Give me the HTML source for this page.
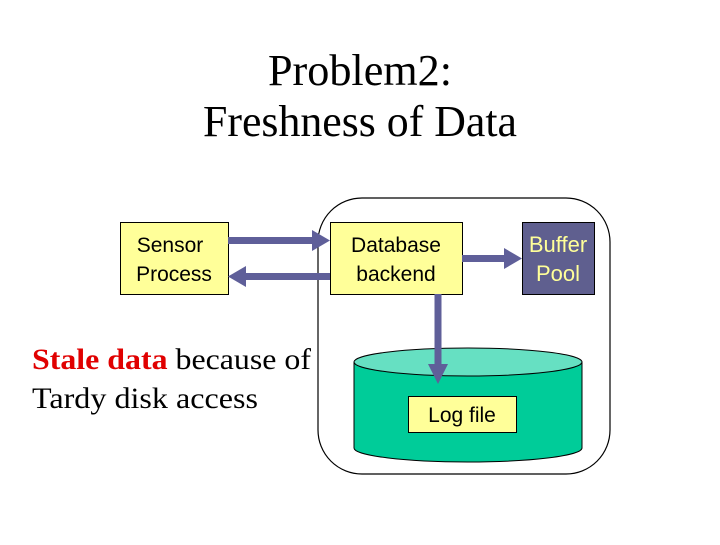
<!DOCTYPE html>
<html><head><style>
html,body{margin:0;padding:0;background:#fff;}
</style></head><body>
<svg width="720" height="540" xmlns="http://www.w3.org/2000/svg">
<rect width="720" height="540" fill="#fff"/>
<g font-family="Liberation Serif, serif" font-size="44" text-anchor="middle" fill="#000">
<text x="360" y="85" textLength="184" lengthAdjust="spacingAndGlyphs">Problem2:</text>
<text x="360" y="136" textLength="314" lengthAdjust="spacingAndGlyphs">Freshness of Data</text>
</g>
<rect x="318" y="198" width="292" height="276" rx="44" fill="none" stroke="#000" stroke-width="1.2"/>
<path d="M354 362 L354 448 A114 14 0 0 0 582 448 L582 362 Z" fill="#00cc99" stroke="#000" stroke-width="1"/>
<ellipse cx="468" cy="362" rx="114" ry="14" fill="#66e0c2" stroke="#000" stroke-width="1"/>
<rect x="120.5" y="222.5" width="108" height="72" fill="#ffff99" stroke="#000"/>
<rect x="330.5" y="222.5" width="132" height="72" fill="#ffff99" stroke="#000"/>
<rect x="522.5" y="222.5" width="72" height="72" fill="#5f5f8f" stroke="#000"/>
<rect x="408.5" y="396.5" width="108" height="36" fill="#ffff99" stroke="#000"/>
<g font-family="Liberation Sans, sans-serif" font-size="21" text-anchor="middle">
<text x="170" y="252">Sensor</text><text x="174" y="281">Process</text>
<text x="396" y="252">Database</text><text x="396" y="281">backend</text>
<text x="558" y="252" fill="#ffff99" font-size="22">Buffer</text><text x="558" y="281" fill="#ffff99" font-size="22">Pool</text>
<text x="462" y="422">Log file</text>
</g>
<g fill="#5f5f99">
<rect x="228" y="237" width="86" height="7"/><polygon points="312,230 330,240.5 312,251"/>
<rect x="246" y="273" width="84" height="7"/><polygon points="246,266 228,276.5 246,287"/>
<rect x="462" y="255" width="44" height="7"/><polygon points="504,248 522,258.5 504,269"/>
<rect x="434.5" y="294" width="7" height="72"/><polygon points="428,364 448,364 438,384"/>
</g>
<g font-family="Liberation Serif, serif" font-size="30">
<text x="32" y="369" textLength="279" lengthAdjust="spacingAndGlyphs"><tspan fill="#e00000" font-weight="bold">Stale data</tspan> because of</text>
<text x="32" y="408" textLength="226" lengthAdjust="spacingAndGlyphs">Tardy disk access</text>
</g>
</svg>
</body></html>
